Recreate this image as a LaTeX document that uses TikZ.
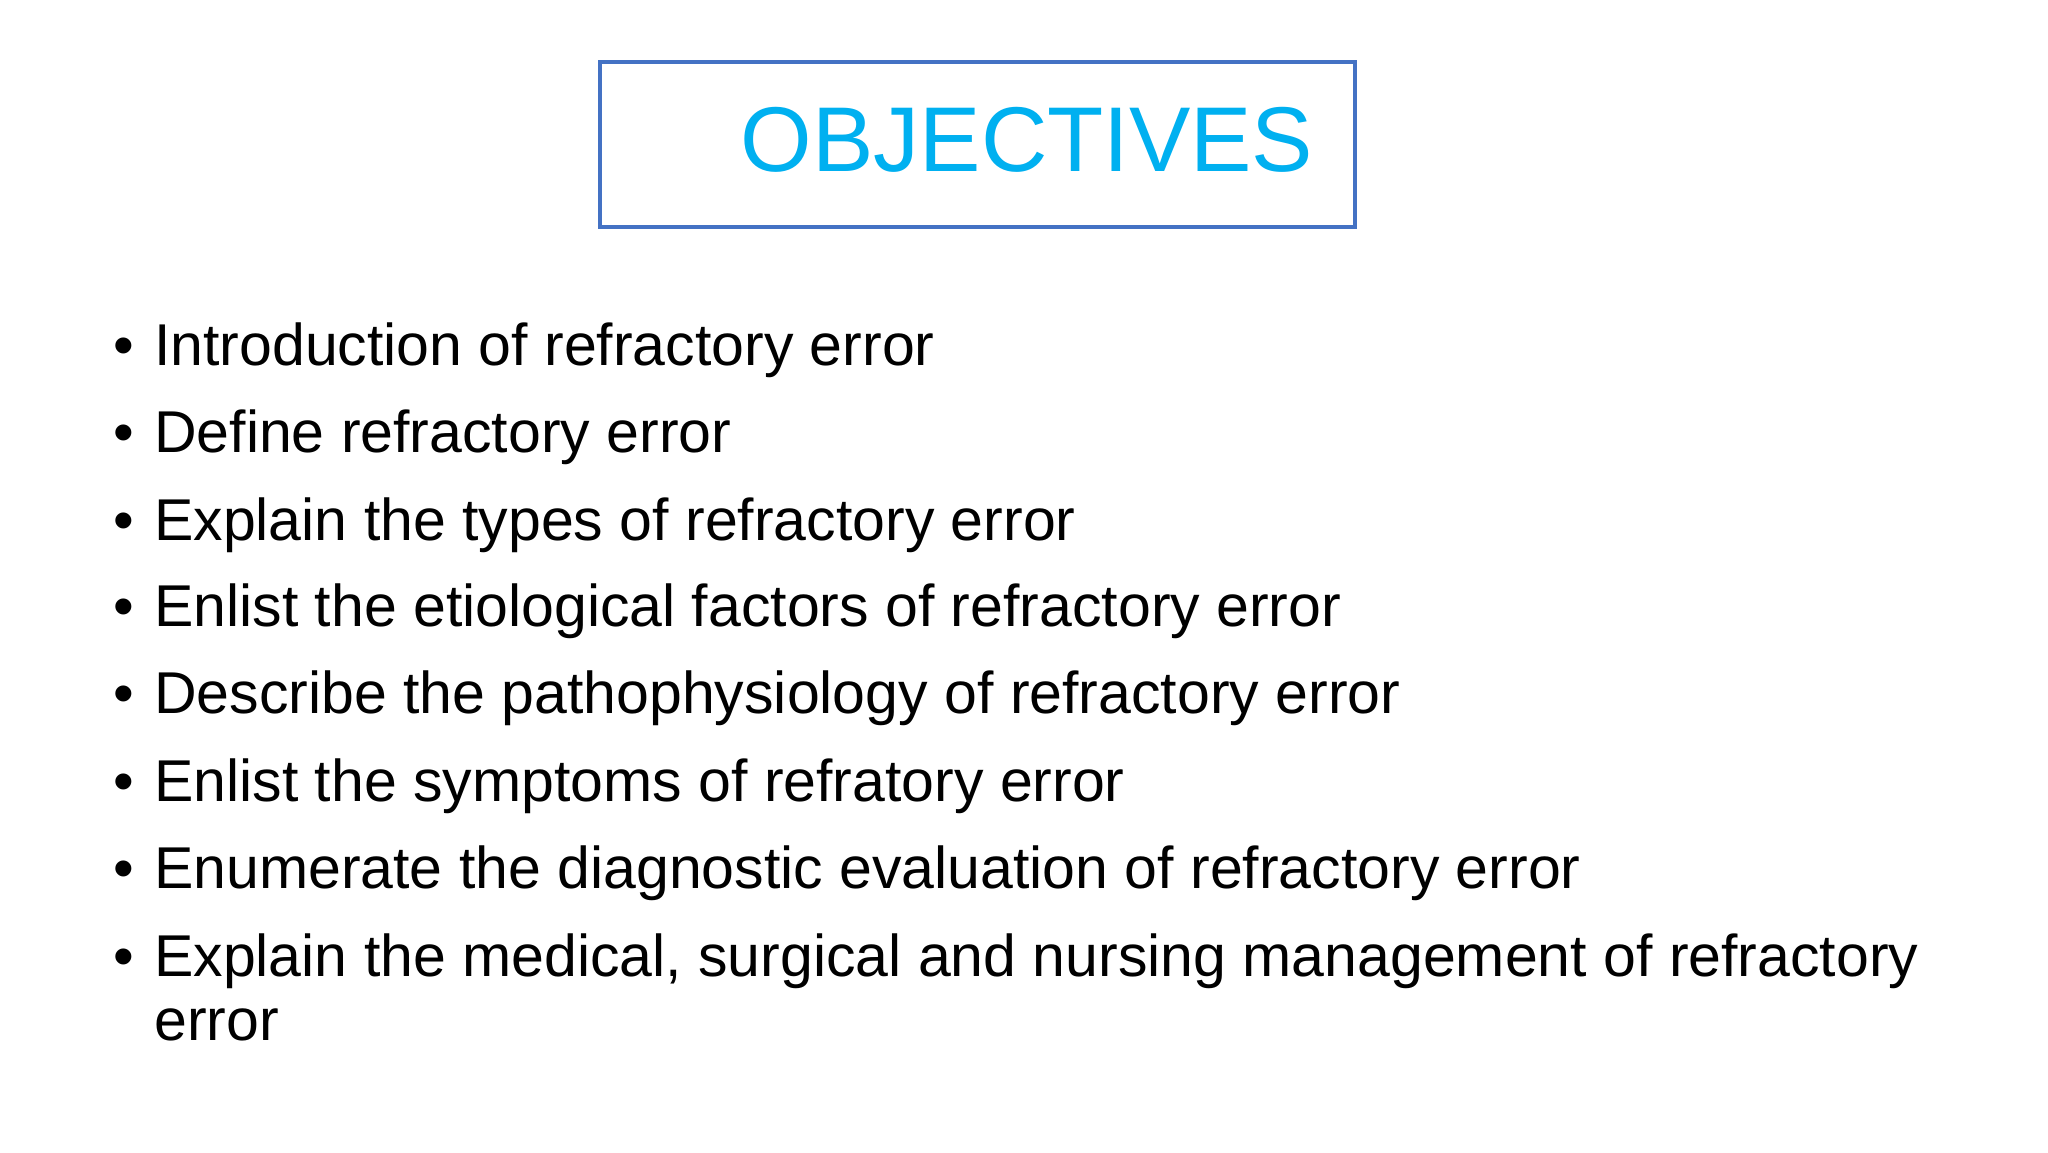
\documentclass[tikz,border=0pt]{standalone}
\usepackage{fontspec}
\setmainfont{Liberation Sans}
\definecolor{boxblue}{HTML}{4472C4}
\definecolor{titlecyan}{HTML}{00B0F0}
\begin{document}
\begin{tikzpicture}[x=1pt,y=1pt,
  item/.style={anchor=base west,inner sep=0pt,font=\fontsize{59}{70}\selectfont},
  bul/.style={anchor=base west,inner sep=0pt,font=\fontsize{59}{70}\selectfont}]
\useasboundingbox[fill=white] (0,0) rectangle (2048,-1152);
\draw[boxblue,line width=4] (600,-62) rectangle (1355,-227);
\node[anchor=base,inner sep=0pt,text=titlecyan,font=\fontsize{92}{100}\selectfont] (title) at (1027,-171) {OBJECTIVES};
\foreach \y/\t [count=\i] in {365/Introduction of refractory error,
  452/Define refractory error,
  540/Explain the types of refractory error,
  626/Enlist the etiological factors of refractory error,
  713/Describe the pathophysiology of refractory error,
  801/Enlist the symptoms of refratory error,
  888/Enumerate the diagnostic evaluation of refractory error,
  976/{Explain the medical, surgical and nursing management of refractory}}{
  \node[bul] (b\i) at (113,-\y) {•};
  \node[item] (t\i) at (154,-\y) {\t};
}
\node[item] (t9) at (154,-1040) {error};
\end{tikzpicture}
\end{document}
